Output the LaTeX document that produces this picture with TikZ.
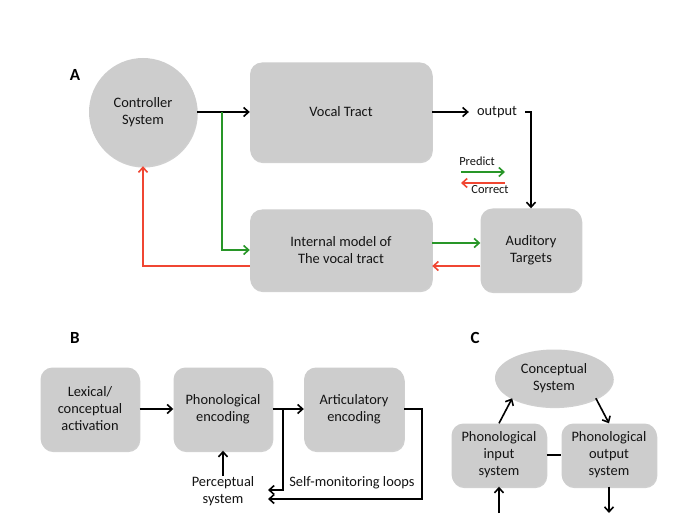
\documentclass[tikz,border=0pt]{standalone}
\usepackage{fontspec}
\setmainfont{Carlito}
\usetikzlibrary{arrows.meta,shadows,calc,shapes.geometric}
\definecolor{boxgray}{RGB}{205,205,205}
\definecolor{arrgreen}{RGB}{40,150,40}
\definecolor{arrred}{RGB}{240,70,50}
\definecolor{txt}{RGB}{20,20,20}
\begin{document}
\begin{tikzpicture}[x=1pt,y=-1pt,
  shade box/.style={fill=boxgray, draw=none, text=txt, align=center,
    drop shadow={shadow xshift=0.8pt, shadow yshift=-1.6pt, opacity=0.3, fill=black!60}},
  rbox/.style={shade box, rounded corners=12pt, inner sep=2pt, font=\fontsize{14.4}{17}\selectfont},
  arr/.style={-{Straight Barb[length=5pt,width=9pt]}, line width=1.6pt, draw=black},
  lbl/.style={font=\fontsize{17}{19}\selectfont\bfseries, text=black},
  plain/.style={text=txt, align=center, font=\fontsize{14.4}{17}\selectfont},
]
\useasboundingbox[fill=white] (0,0) rectangle (682,529);

% ---------- A ----------
\node[lbl] (la) at (75,75) {A};
\node[shade box, circle, minimum size=108pt, inner sep=0pt, font=\fontsize{14.4}{17}\selectfont] (cs) at (143,112) {Controller\\System};
\node[rbox, minimum width=182pt, minimum height=99pt] (vt) at (341,112) {Vocal Tract};
\node[rbox, minimum width=182pt, minimum height=81pt] (im) at (341,250) {Internal model of\\The vocal tract};
\node[rbox, minimum width=101pt, minimum height=83pt] (at) at (531,250) {Auditory\\Targets};
\node[plain, inner xsep=8pt, inner ysep=2pt] (out) at (497,112) {output};
\node[plain, font=\fontsize{12.4}{14}\selectfont, inner sep=1pt] (pred) at (477,161) {Predict};
\node[plain, font=\fontsize{12.4}{14}\selectfont, inner sep=1pt] (corr) at (490,190) {Correct};

\coordinate (g1) at (222,112);
\coordinate (l1) at (461,172);
\coordinate (l2) at (505,172);
\coordinate (l3) at (505,183);
\coordinate (l4) at (461,183);

\draw[arr] (cs.east) -- (vt.west);
\draw[arr, draw=arrgreen] (g1) |- (im.west);
\draw[arr, draw=arrred] ($(im.west)+(0,16)$) -| (cs.south);
\draw[arr] (vt.east) -- (out.west);
\draw[arr] (out.east) -| (at.north);
\draw[arr, draw=arrgreen] ($(im.east)+(0,-7)$) -- ($(at.west)+(0,-7)$);
\draw[arr, draw=arrred] ($(at.west)+(0,16)$) -- ($(im.east)+(0,16)$);
\draw[arr, draw=arrgreen] (l1) -- (l2);
\draw[arr, draw=arrred] (l3) -- (l4);

% ---------- B ----------
\node[lbl] (lb) at (75,338) {B};
\node[rbox, minimum width=99pt, minimum height=83pt] (lex) at (90,409) {Lexical/\\conceptual\\activation};
\node[rbox, minimum width=99pt, minimum height=83pt] (pe) at (223,409) {Phonological\\encoding};
\node[rbox, minimum width=100pt, minimum height=83pt] (ae) at (354,409) {Articulatory\\encoding};
\node[plain, inner sep=1pt] (ps) at (223,491) {Perceptual\\system};
\node[plain, inner sep=1pt] (sm) at (352,483) {Self-monitoring loops};
\coordinate (b1) at (283,409);
\coordinate (t1) at (268,490);
\coordinate (t2) at (268,499);
\coordinate (b2) at (422,409);
\coordinate (b3) at (223,476);

\draw[arr] (lex) -- (pe);
\draw[arr] (pe) -- (ae);
\draw[arr] (b1) |- (t1);
\draw[arr] (ae.east) -- (b2) |- (t2);
\draw[arr] (b3) -- (pe.south);

% ---------- C ----------
\node[lbl] (lc) at (475,338) {C};
\node[shade box, ellipse, minimum width=118pt, minimum height=57pt, inner sep=0pt, font=\fontsize{14.4}{17}\selectfont] (cons) at (554,378) {Conceptual\\System};
\node[rbox, minimum width=95pt, minimum height=63pt] (pi) at (499,455) {Phonological\\input\\system};
\node[rbox, minimum width=95pt, minimum height=63pt] (po) at (609,455) {Phonological\\output\\system};
\coordinate (c1) at (499,513);
\coordinate (c2) at (609,513);

\draw[arr] (pi.north) -- (cons.south west);
\draw[arr] (cons.south east) -- (po.north);
\draw[line width=1.6pt] (pi) -- (po);
\draw[arr] (c1) -- (pi.south);
\draw[arr] (po.south) -- (c2);
\end{tikzpicture}
\end{document}
